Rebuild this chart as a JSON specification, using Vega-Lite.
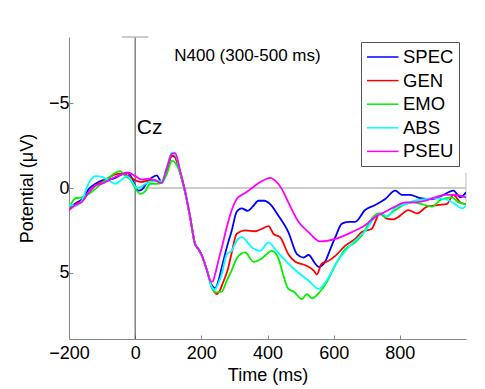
{
  "$schema": "https://vega.github.io/schema/vega-lite/v6.json",
  "width": 397,
  "height": 302,
  "autosize": "none",
  "padding": {"left": 69, "top": 37, "right": 19, "bottom": 50},
  "background": "white",
  "config": {
    "view": {"stroke": null},
    "font": "Liberation Sans",
    "axis": {"grid": false, "domainColor": "#888", "tickColor": "#888", "tickSize": -4, "labelFont": "Liberation Sans", "titleFont": "Liberation Sans", "labelFontSize": 18, "titleFontSize": 18, "labelColor": "#000", "titleColor": "#000", "titleFontWeight": "normal"},
    "legend": {"orient": "none", "legendX": 292, "legendY": 5, "strokeColor": "#555", "fillColor": "white", "padding": 5, "labelFont": "Liberation Sans", "labelFontSize": 18.5, "labelColor": "#000", "symbolType": "M-1,0H2.5", "symbolSize": 324, "symbolStrokeWidth": 1.5, "labelOffset": 17, "rowPadding": 3.6}
  },
  "datasets": {
    "erp": [
      {"cond":"SPEC","t":-200,"v":1.2},{"cond":"SPEC","t":-180,"v":0.9},{"cond":"SPEC","t":-160,"v":0.65},{"cond":"SPEC","t":-140,"v":0.05},{"cond":"SPEC","t":-120,"v":-0.25},{"cond":"SPEC","t":-100,"v":-0.45},{"cond":"SPEC","t":-80,"v":-0.5},{"cond":"SPEC","t":-60,"v":-0.6},{"cond":"SPEC","t":-40,"v":-0.8},{"cond":"SPEC","t":-25,"v":-0.9},{"cond":"SPEC","t":-10,"v":-0.6},{"cond":"SPEC","t":0,"v":-0.1},{"cond":"SPEC","t":10,"v":0.15},{"cond":"SPEC","t":20,"v":0.1},{"cond":"SPEC","t":35,"v":-0.3},{"cond":"SPEC","t":50,"v":-0.6},{"cond":"SPEC","t":65,"v":-0.75},{"cond":"SPEC","t":80,"v":-0.35},{"cond":"SPEC","t":96,"v":-1.1},{"cond":"SPEC","t":111,"v":-1.9},{"cond":"SPEC","t":121,"v":-1.8},{"cond":"SPEC","t":136,"v":-0.9},{"cond":"SPEC","t":150,"v":0.15},{"cond":"SPEC","t":166,"v":1.7},{"cond":"SPEC","t":181,"v":3.3},{"cond":"SPEC","t":191,"v":3.6},{"cond":"SPEC","t":202,"v":4.0},{"cond":"SPEC","t":217,"v":4.85},{"cond":"SPEC","t":232,"v":5.75},{"cond":"SPEC","t":242,"v":5.9},{"cond":"SPEC","t":252,"v":5.45},{"cond":"SPEC","t":262,"v":4.65},{"cond":"SPEC","t":277,"v":3.5},{"cond":"SPEC","t":292,"v":2.5},{"cond":"SPEC","t":307,"v":1.4},{"cond":"SPEC","t":322,"v":1.2},{"cond":"SPEC","t":340,"v":1.35},{"cond":"SPEC","t":355,"v":1.1},{"cond":"SPEC","t":373,"v":0.75},{"cond":"SPEC","t":390,"v":0.75},{"cond":"SPEC","t":408,"v":0.95},{"cond":"SPEC","t":432,"v":1.6},{"cond":"SPEC","t":463,"v":2.6},{"cond":"SPEC","t":489,"v":3.9},{"cond":"SPEC","t":509,"v":4.1},{"cond":"SPEC","t":524,"v":3.95},{"cond":"SPEC","t":544,"v":4.45},{"cond":"SPEC","t":554,"v":4.65},{"cond":"SPEC","t":574,"v":4.35},{"cond":"SPEC","t":590,"v":3.6},{"cond":"SPEC","t":605,"v":2.9},{"cond":"SPEC","t":625,"v":2.1},{"cond":"SPEC","t":645,"v":2.0},{"cond":"SPEC","t":665,"v":2.0},{"cond":"SPEC","t":695,"v":1.3},{"cond":"SPEC","t":726,"v":1.0},{"cond":"SPEC","t":756,"v":0.65},{"cond":"SPEC","t":786,"v":0.15},{"cond":"SPEC","t":806,"v":0.4},{"cond":"SPEC","t":831,"v":0.4},{"cond":"SPEC","t":862,"v":0.6},{"cond":"SPEC","t":897,"v":0.65},{"cond":"SPEC","t":927,"v":0.45},{"cond":"SPEC","t":962,"v":0.15},{"cond":"SPEC","t":983,"v":0.55},{"cond":"SPEC","t":1000,"v":0.25},

      {"cond":"GEN","t":-200,"v":1.3},{"cond":"GEN","t":-180,"v":0.95},{"cond":"GEN","t":-160,"v":0.75},{"cond":"GEN","t":-140,"v":0.25},{"cond":"GEN","t":-120,"v":-0.15},{"cond":"GEN","t":-100,"v":-0.35},{"cond":"GEN","t":-80,"v":-0.6},{"cond":"GEN","t":-60,"v":-0.8},{"cond":"GEN","t":-40,"v":-0.85},{"cond":"GEN","t":-20,"v":-0.7},{"cond":"GEN","t":0,"v":-0.45},{"cond":"GEN","t":20,"v":-0.35},{"cond":"GEN","t":40,"v":-0.45},{"cond":"GEN","t":60,"v":-0.45},{"cond":"GEN","t":80,"v":-0.3},{"cond":"GEN","t":96,"v":-1.1},{"cond":"GEN","t":111,"v":-1.9},{"cond":"GEN","t":121,"v":-1.8},{"cond":"GEN","t":136,"v":-0.9},{"cond":"GEN","t":150,"v":0.15},{"cond":"GEN","t":166,"v":1.7},{"cond":"GEN","t":181,"v":3.3},{"cond":"GEN","t":191,"v":3.6},{"cond":"GEN","t":202,"v":4.0},{"cond":"GEN","t":217,"v":4.85},{"cond":"GEN","t":232,"v":5.85},{"cond":"GEN","t":247,"v":6.25},{"cond":"GEN","t":257,"v":6.0},{"cond":"GEN","t":265,"v":5.6},{"cond":"GEN","t":280,"v":4.8},{"cond":"GEN","t":292,"v":3.8},{"cond":"GEN","t":307,"v":2.7},{"cond":"GEN","t":332,"v":2.5},{"cond":"GEN","t":363,"v":2.55},{"cond":"GEN","t":383,"v":2.4},{"cond":"GEN","t":403,"v":2.25},{"cond":"GEN","t":418,"v":2.7},{"cond":"GEN","t":438,"v":2.9},{"cond":"GEN","t":463,"v":3.9},{"cond":"GEN","t":484,"v":4.35},{"cond":"GEN","t":514,"v":4.55},{"cond":"GEN","t":539,"v":4.85},{"cond":"GEN","t":549,"v":5.1},{"cond":"GEN","t":564,"v":4.45},{"cond":"GEN","t":579,"v":4.35},{"cond":"GEN","t":605,"v":4.0},{"cond":"GEN","t":635,"v":3.4},{"cond":"GEN","t":665,"v":3.0},{"cond":"GEN","t":685,"v":2.6},{"cond":"GEN","t":715,"v":2.4},{"cond":"GEN","t":740,"v":1.5},{"cond":"GEN","t":761,"v":1.8},{"cond":"GEN","t":781,"v":1.85},{"cond":"GEN","t":796,"v":1.7},{"cond":"GEN","t":826,"v":1.3},{"cond":"GEN","t":852,"v":1.5},{"cond":"GEN","t":882,"v":1.1},{"cond":"GEN","t":917,"v":1.0},{"cond":"GEN","t":942,"v":0.95},{"cond":"GEN","t":962,"v":0.4},{"cond":"GEN","t":983,"v":0.85},{"cond":"GEN","t":1000,"v":0.95},

      {"cond":"EMO","t":-200,"v":1.2},{"cond":"EMO","t":-180,"v":0.6},{"cond":"EMO","t":-160,"v":0.55},{"cond":"EMO","t":-140,"v":0.35},{"cond":"EMO","t":-120,"v":0.05},{"cond":"EMO","t":-100,"v":-0.3},{"cond":"EMO","t":-80,"v":-0.6},{"cond":"EMO","t":-60,"v":-0.9},{"cond":"EMO","t":-45,"v":-1.0},{"cond":"EMO","t":-30,"v":-0.7},{"cond":"EMO","t":-15,"v":-0.5},{"cond":"EMO","t":0,"v":0.0},{"cond":"EMO","t":15,"v":0.35},{"cond":"EMO","t":30,"v":0.2},{"cond":"EMO","t":45,"v":-0.25},{"cond":"EMO","t":65,"v":-0.25},{"cond":"EMO","t":80,"v":-0.3},{"cond":"EMO","t":96,"v":-0.85},{"cond":"EMO","t":111,"v":-1.6},{"cond":"EMO","t":121,"v":-1.5},{"cond":"EMO","t":136,"v":-0.85},{"cond":"EMO","t":150,"v":0.2},{"cond":"EMO","t":166,"v":1.7},{"cond":"EMO","t":181,"v":3.3},{"cond":"EMO","t":191,"v":3.6},{"cond":"EMO","t":202,"v":4.0},{"cond":"EMO","t":217,"v":4.85},{"cond":"EMO","t":232,"v":5.9},{"cond":"EMO","t":245,"v":6.15},{"cond":"EMO","t":262,"v":6.1},{"cond":"EMO","t":277,"v":5.45},{"cond":"EMO","t":292,"v":4.85},{"cond":"EMO","t":307,"v":4.15},{"cond":"EMO","t":332,"v":3.8},{"cond":"EMO","t":358,"v":4.35},{"cond":"EMO","t":383,"v":4.15},{"cond":"EMO","t":413,"v":3.7},{"cond":"EMO","t":433,"v":4.15},{"cond":"EMO","t":448,"v":5.15},{"cond":"EMO","t":463,"v":5.95},{"cond":"EMO","t":479,"v":6.1},{"cond":"EMO","t":504,"v":6.55},{"cond":"EMO","t":519,"v":6.25},{"cond":"EMO","t":534,"v":6.5},{"cond":"EMO","t":559,"v":6.1},{"cond":"EMO","t":579,"v":5.55},{"cond":"EMO","t":605,"v":4.55},{"cond":"EMO","t":635,"v":3.6},{"cond":"EMO","t":665,"v":3.2},{"cond":"EMO","t":685,"v":2.8},{"cond":"EMO","t":715,"v":1.8},{"cond":"EMO","t":736,"v":1.5},{"cond":"EMO","t":756,"v":1.7},{"cond":"EMO","t":786,"v":1.3},{"cond":"EMO","t":816,"v":0.95},{"cond":"EMO","t":841,"v":0.85},{"cond":"EMO","t":867,"v":0.95},{"cond":"EMO","t":897,"v":1.1},{"cond":"EMO","t":927,"v":0.65},{"cond":"EMO","t":957,"v":0.55},{"cond":"EMO","t":978,"v":0.85},{"cond":"EMO","t":1000,"v":0.95},

      {"cond":"ABS","t":-200,"v":1.0},{"cond":"ABS","t":-180,"v":1.05},{"cond":"ABS","t":-160,"v":0.7},{"cond":"ABS","t":-140,"v":-0.3},{"cond":"ABS","t":-120,"v":-0.7},{"cond":"ABS","t":-100,"v":-0.65},{"cond":"ABS","t":-80,"v":-0.45},{"cond":"ABS","t":-60,"v":-0.25},{"cond":"ABS","t":-40,"v":-0.5},{"cond":"ABS","t":-25,"v":-0.7},{"cond":"ABS","t":-10,"v":-0.4},{"cond":"ABS","t":5,"v":0.0},{"cond":"ABS","t":20,"v":-0.1},{"cond":"ABS","t":40,"v":-0.35},{"cond":"ABS","t":60,"v":-0.4},{"cond":"ABS","t":80,"v":-0.4},{"cond":"ABS","t":96,"v":-1.25},{"cond":"ABS","t":111,"v":-2.1},{"cond":"ABS","t":121,"v":-2.0},{"cond":"ABS","t":136,"v":-1.0},{"cond":"ABS","t":150,"v":0.1},{"cond":"ABS","t":166,"v":1.7},{"cond":"ABS","t":181,"v":3.3},{"cond":"ABS","t":191,"v":3.6},{"cond":"ABS","t":202,"v":4.0},{"cond":"ABS","t":217,"v":4.85},{"cond":"ABS","t":232,"v":5.85},{"cond":"ABS","t":240,"v":6.0},{"cond":"ABS","t":252,"v":5.6},{"cond":"ABS","t":262,"v":5.05},{"cond":"ABS","t":277,"v":3.9},{"cond":"ABS","t":292,"v":3.7},{"cond":"ABS","t":307,"v":3.1},{"cond":"ABS","t":322,"v":2.9},{"cond":"ABS","t":353,"v":3.5},{"cond":"ABS","t":378,"v":3.7},{"cond":"ABS","t":403,"v":3.2},{"cond":"ABS","t":423,"v":3.6},{"cond":"ABS","t":448,"v":4.15},{"cond":"ABS","t":484,"v":4.85},{"cond":"ABS","t":524,"v":5.45},{"cond":"ABS","t":554,"v":5.95},{"cond":"ABS","t":579,"v":5.45},{"cond":"ABS","t":610,"v":4.35},{"cond":"ABS","t":640,"v":3.6},{"cond":"ABS","t":665,"v":3.1},{"cond":"ABS","t":695,"v":2.55},{"cond":"ABS","t":726,"v":1.7},{"cond":"ABS","t":746,"v":1.5},{"cond":"ABS","t":761,"v":1.7},{"cond":"ABS","t":786,"v":1.15},{"cond":"ABS","t":816,"v":0.95},{"cond":"ABS","t":846,"v":0.75},{"cond":"ABS","t":877,"v":0.65},{"cond":"ABS","t":907,"v":0.6},{"cond":"ABS","t":937,"v":0.65},{"cond":"ABS","t":967,"v":0.95},{"cond":"ABS","t":988,"v":1.2},{"cond":"ABS","t":1000,"v":1.05},

      {"cond":"PSEU","t":-200,"v":1.3},{"cond":"PSEU","t":-180,"v":1.0},{"cond":"PSEU","t":-160,"v":0.8},{"cond":"PSEU","t":-140,"v":0.25},{"cond":"PSEU","t":-120,"v":-0.15},{"cond":"PSEU","t":-100,"v":-0.25},{"cond":"PSEU","t":-80,"v":-0.45},{"cond":"PSEU","t":-60,"v":-0.65},{"cond":"PSEU","t":-40,"v":-0.8},{"cond":"PSEU","t":-20,"v":-0.9},{"cond":"PSEU","t":0,"v":-0.7},{"cond":"PSEU","t":20,"v":-0.5},{"cond":"PSEU","t":40,"v":-0.55},{"cond":"PSEU","t":60,"v":-0.45},{"cond":"PSEU","t":80,"v":-0.3},{"cond":"PSEU","t":96,"v":-1.2},{"cond":"PSEU","t":111,"v":-2.0},{"cond":"PSEU","t":121,"v":-2.05},{"cond":"PSEU","t":136,"v":-1.0},{"cond":"PSEU","t":150,"v":0.1},{"cond":"PSEU","t":166,"v":1.7},{"cond":"PSEU","t":181,"v":3.3},{"cond":"PSEU","t":191,"v":3.6},{"cond":"PSEU","t":202,"v":4.0},{"cond":"PSEU","t":217,"v":4.85},{"cond":"PSEU","t":228,"v":5.5},{"cond":"PSEU","t":235,"v":5.5},{"cond":"PSEU","t":242,"v":5.05},{"cond":"PSEU","t":252,"v":4.25},{"cond":"PSEU","t":262,"v":3.5},{"cond":"PSEU","t":277,"v":2.3},{"cond":"PSEU","t":292,"v":1.3},{"cond":"PSEU","t":307,"v":0.65},{"cond":"PSEU","t":332,"v":0.3},{"cond":"PSEU","t":350,"v":0.05},{"cond":"PSEU","t":370,"v":-0.25},{"cond":"PSEU","t":393,"v":-0.5},{"cond":"PSEU","t":408,"v":-0.6},{"cond":"PSEU","t":425,"v":-0.4},{"cond":"PSEU","t":443,"v":0.05},{"cond":"PSEU","t":463,"v":0.85},{"cond":"PSEU","t":494,"v":2.0},{"cond":"PSEU","t":524,"v":2.6},{"cond":"PSEU","t":559,"v":3.15},{"cond":"PSEU","t":605,"v":3.0},{"cond":"PSEU","t":655,"v":2.6},{"cond":"PSEU","t":695,"v":2.2},{"cond":"PSEU","t":726,"v":1.7},{"cond":"PSEU","t":756,"v":1.4},{"cond":"PSEU","t":786,"v":1.1},{"cond":"PSEU","t":816,"v":0.85},{"cond":"PSEU","t":846,"v":0.85},{"cond":"PSEU","t":877,"v":0.75},{"cond":"PSEU","t":907,"v":0.55},{"cond":"PSEU","t":937,"v":0.4},{"cond":"PSEU","t":967,"v":0.4},{"cond":"PSEU","t":1000,"v":0.55}
    ],
    "notes": [
      {"label": "N400 (300-500 ms)", "t": 118, "v": -7.8, "size": "small"},
      {"label": "Cz", "t": 5, "v": -3.55, "size": "large"}
    ],
    "one": [{"k": 1}]
  },
  "layer": [
    {
      "data": {"name": "one"},
      "mark": {"type": "rule", "color": "#444", "strokeWidth": 1},
      "encoding": {
        "x": {"datum": 0, "type": "quantitative", "scale": {"domain": [-200, 1000], "nice": false, "zero": false}},
        "y": {"datum": -8.9, "type": "quantitative", "scale": {"domain": [-8.9, 8.9], "reverse": true, "nice": false, "zero": false}},
        "y2": {"datum": 8.9}
      }
    },
    {
      "data": {"name": "one"},
      "mark": {"type": "rule", "color": "#bbb", "strokeWidth": 1.5},
      "encoding": {
        "x": {"datum": -40, "type": "quantitative"},
        "x2": {"datum": 40},
        "y": {"datum": -8.9, "type": "quantitative"}
      }
    },
    {
      "data": {"name": "one"},
      "mark": {"type": "rule", "color": "#999", "strokeWidth": 1.2},
      "encoding": {
        "x": {"datum": 0, "type": "quantitative"},
        "x2": {"datum": 1000},
        "y": {"datum": 0, "type": "quantitative"}
      }
    },
    {
      "data": {"name": "one"},
      "mark": {"type": "rule", "color": "#bbb", "strokeWidth": 1},
      "encoding": {
        "x": {"datum": 1000, "type": "quantitative"},
        "y": {"datum": -0.9, "type": "quantitative"},
        "y2": {"datum": 0.85}
      }
    },
    {
      "data": {"name": "erp"},
      "mark": {"type": "line", "strokeWidth": 1.8, "interpolate": "monotone", "clip": true},
      "encoding": {
        "x": {"field": "t", "type": "quantitative",
              "axis": {"values": [-200, 0, 200, 400, 600, 800], "title": "Time (ms)", "labelPadding": 9, "titlePadding": 4, "labelFlush": false}},
        "y": {"field": "v", "type": "quantitative",
              "axis": {"values": [-5, 0, 5], "title": "Potential (μV)", "labelPadding": 4, "titlePadding": 12}},
        "color": {"field": "cond", "type": "nominal",
                  "scale": {"domain": ["SPEC", "GEN", "EMO", "ABS", "PSEU"], "range": ["#0000ff", "#ff0000", "#00f000", "#00ffff", "#ff00ff"]},
                  "legend": {"title": null}}
      }
    },
    {
      "data": {"name": "notes"},
      "mark": {"type": "text", "align": "left", "baseline": "middle", "font": "Liberation Sans", "color": "#000"},
      "encoding": {
        "x": {"field": "t", "type": "quantitative"},
        "y": {"field": "v", "type": "quantitative"},
        "text": {"field": "label"},
        "size": {"field": "size", "type": "nominal", "scale": {"domain": ["small", "large"], "range": [17, 21]}, "legend": null}
      }
    }
  ]
}
